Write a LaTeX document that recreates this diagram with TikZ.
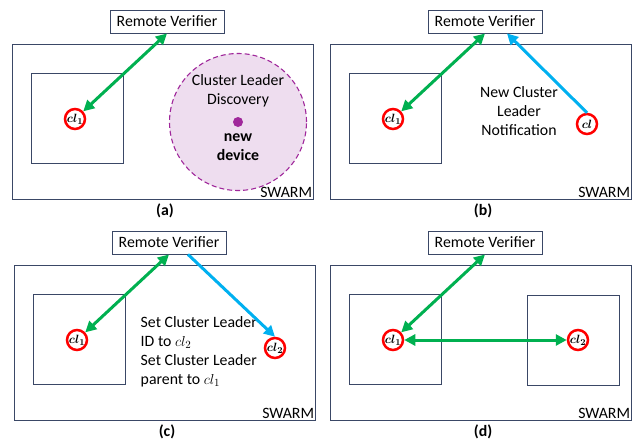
\documentclass[tikz,border=0pt]{standalone}
\usepackage{fontspec}
\setmainfont{Carlito}
\usetikzlibrary{shapes,shapes.geometric,arrows.meta,calc}

\definecolor{navy}{HTML}{3A4766}
\definecolor{lgreen}{HTML}{00B050}
\definecolor{lblue}{HTML}{00B0F0}
\definecolor{clred}{HTML}{FF0000}
\definecolor{dotpurple}{HTML}{A0289B}
\definecolor{lilac}{HTML}{EEDDEF}

\begin{document}
\begin{tikzpicture}
        [x=1pt,y=-1pt,thick,
        every node/.style={font=\fontsize{15.8}{19}\selectfont},
        box/.style={draw=navy,line width=0.9pt,inner sep=0pt},
        rv/.style={box,minimum width=114pt,minimum height=23pt},
        swarm/.style={box,minimum width=301pt,minimum height=155pt},
        cluster/.style={box,minimum width=92pt,minimum height=90pt},
        leader/.style={shape=circle,draw=clred,line width=2.5pt,inner sep=0pt,
          minimum size=20pt,font=\fontsize{13}{13}\selectfont\boldmath},
        link/.style={draw=lgreen,line width=3pt,
          {Triangle[length=11pt,width=11pt]}-{Triangle[length=11pt,width=11pt]}},
        notify/.style={draw=lblue,line width=3pt,-{Triangle[length=11pt,width=11pt]}}]
        \useasboundingbox (0,0) rectangle (633,440);
        %% the part that every panel has
        \foreach \p/\dx/\dy in {a/0/0, b/318/0, c/2/221, d/318/221}
        {
          \begin{scope}[shift={(\dx,\dy)}]
            \node[swarm] (sw\p) at (163,121.5) {};
            \node[cluster] (sq\p) at (77,118) {};
            \node[rv] (rv\p) at (167,21.5) {Remote Verifier};
            \node[leader] (cl\p) at (75,119) {$cl_1$};
            \node[anchor=south east,inner sep=1.5pt] (tag\p) at (sw\p.south east) {SWARM};
            \node[font=\fontsize{15.8}{19}\selectfont\bfseries] (lab\p) at (165,211) {(\p)};
            \draw[link] (rv\p.south) -- (cl\p);
          \end{scope}
        }
        %% (a)
        \node[shape=circle,draw=dotpurple,dash pattern=on 5pt off 3pt,fill=lilac,
          line width=1.1pt,minimum size=137pt] (disc) at (238,122) {};
        \node[align=center] (disctxt) at (238,91) {Cluster Leader\\Discovery};
        \node[shape=circle,fill=dotpurple,minimum size=10pt,inner sep=0pt] (newdev) at (238,122) {};
        \node[align=center,font=\fontsize{15.8}{19}\selectfont\bfseries] (newtxt) at (238,147) {new\\device};
        %% (b)
        \node[leader] (clb2) at (587,124) {$cl$};
        \node[align=center] (notetxt) at (519,111) {New Cluster\\Leader\\Notification};
        \draw[notify] (clb2.north) -- ([xshift=22pt]rvb.south);
        %% (c)
        \node[leader] (clc2) at (275,348) {$cl_2$};
        \node[align=left,anchor=north west] (settxt) at (137,313)
          {Set Cluster Leader\\ID to $cl_2$\\Set Cluster Leader\\parent to $cl_1$};
        \draw[notify] ([xshift=19pt]rvc.south) -- (clc2.north);
        %% (d)
        \node[cluster] (sqd2) at (573.5,340) {};
        \node[leader] (cld2) at (578,340) {$cl_2$};
        \draw[link] (cld) -- (cld2);
\end{tikzpicture}
\end{document}
